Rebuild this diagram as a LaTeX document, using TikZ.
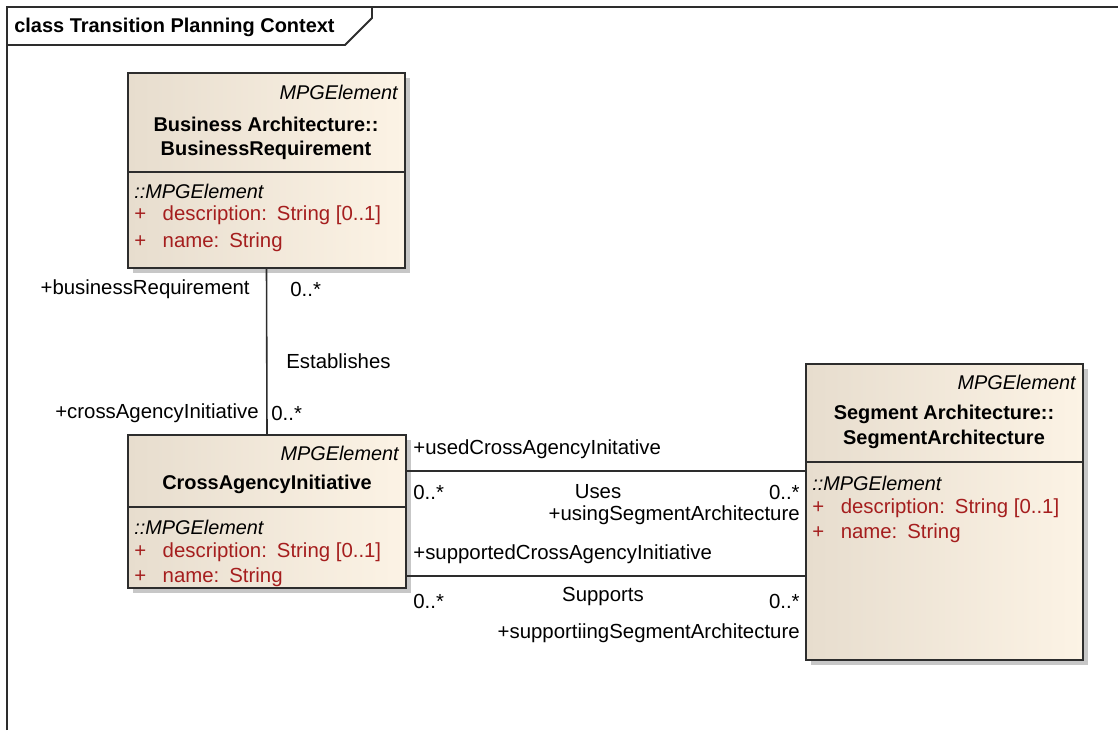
\documentclass[tikz,border=0pt]{standalone}
\usepackage{fontspec}
\setmainfont{Liberation Sans}
\usetikzlibrary{shadows}

\definecolor{boxleft}{RGB}{231,221,206}
\definecolor{boxright}{RGB}{252,243,229}
\definecolor{attrred}{RGB}{165,30,30}
\definecolor{edgegray}{RGB}{45,45,45}
\newcommand{\diafont}{\fontsize{11.6}{13.5}\selectfont}
\newcommand{\diabold}{\fontsize{11.35}{13.5}\selectfont\bfseries}

\tikzset{
  classbox/.style={draw=edgegray, line width=1.1pt, left color=boxleft, right color=boxright,
    drop shadow={shadow xshift=0.1cm, shadow yshift=-0.1cm, fill=black!22, opacity=1},
    inner sep=0pt},
  divider/.style={draw=edgegray, line width=1.1pt},
  assoc/.style={draw=edgegray, line width=0.9pt},
  stereo/.style={font=\fontsize{11.3}{13.5}\selectfont\itshape, anchor=east, inner sep=0pt},
  cname/.style={font=\diabold, inner sep=0pt},
  attr/.style={font=\diafont, text=attrred, anchor=west, inner sep=0pt},
  parentname/.style={font=\fontsize{11.3}{13.5}\selectfont\itshape, anchor=west, inner sep=0pt},
  lbl/.style={font=\diafont, inner sep=0pt}
}

\begin{document}
\begin{tikzpicture}[x=0.02cm, y=-0.02cm]
\useasboundingbox (0,0) rectangle (1118,730);

% frame and title tab
\draw[edgegray, line width=1.1pt] (7,730) -- (7,7) -- (1118,7);
\draw[edgegray, line width=1.1pt] (7,45) -- (345,45) -- (372,18) -- (372,7);
\node[lbl, font=\diabold, anchor=west] (title) at (14,27) {class Transition Planning Context};

\begin{scope}
% classes
\node[classbox, minimum width=5.54cm, minimum height=3.9cm] (busreq) at (266.5,170.5) {};
\node[classbox, minimum width=5.56cm, minimum height=3.06cm] (cross) at (267,511.5) {};
\node[classbox, minimum width=5.54cm, minimum height=5.92cm] (segarch) at (944.5,512) {};

\draw[divider] (busreq.west |- 0,172) -- (busreq.east |- 0,172);
\draw[divider] (cross.west |- 0,507) -- (cross.east |- 0,507);
\draw[divider] (segarch.west |- 0,462) -- (segarch.east |- 0,462);

% BusinessRequirement
\node[stereo] (busreqst) at (398,92) {MPGElement};
\node[cname] (busreqn1) at (266,124) {Business Architecture::};
\node[cname] (busreqn2) at (266,150) {BusinessRequirement};
\node[parentname] (busreqp) at (134,191) {::MPGElement};
\node[attr] (busreqa1) at (134,215) {+\hspace{0.33cm}description:\hspace{0.2cm}String [0..1]};
\node[attr] (busreqa2) at (134,242) {+\hspace{0.33cm}name:\hspace{0.2cm}String};

% CrossAgencyInitiative
\node[stereo] (crossst) at (399,453) {MPGElement};
\node[cname] (crossn) at (267,484) {CrossAgencyInitiative};
\node[parentname] (crossp) at (134,527) {::MPGElement};
\node[attr] (crossa1) at (134,552) {+\hspace{0.33cm}description:\hspace{0.2cm}String [0..1]};
\node[attr] (crossa2) at (134,577) {+\hspace{0.33cm}name:\hspace{0.2cm}String};

% SegmentArchitecture
\node[stereo] (segst) at (1076,382) {MPGElement};
\node[cname] (segn1) at (944,414) {Segment Architecture::};
\node[cname] (segn2) at (944,439) {SegmentArchitecture};
\node[parentname] (segp) at (812,483) {::MPGElement};
\node[attr] (sega1) at (812,508) {+\hspace{0.33cm}description:\hspace{0.2cm}String [0..1]};
\node[attr] (sega2) at (812,533) {+\hspace{0.33cm}name:\hspace{0.2cm}String};
\end{scope}

% associations
\draw[assoc] (busreq.south) -- (cross.north);
\draw[assoc] (cross.east |- 0,471) -- (segarch.west |- 0,471);
\draw[assoc] (cross.east |- 0,576) -- (segarch.west |- 0,576);

\node[lbl, anchor=east] (brrole) at (250,289) {+businessRequirement};
\node[lbl, anchor=west] (brmult) at (290,289) {0..*};
\node[lbl, anchor=west] (estab) at (286,361) {Establishes};
\node[lbl, anchor=east] (carole) at (259,413) {+crossAgencyInitiative};
\node[lbl, anchor=west] (camult) at (271,413) {0..*};

\node[lbl, anchor=west] (usedrole) at (413,449) {+usedCrossAgencyInitative};
\node[lbl, anchor=west] (usedmult) at (413,492) {0..*};
\node[lbl] (uses) at (598,492) {Uses};
\node[lbl, anchor=east] (usingmult) at (800,492) {0..*};
\node[lbl, anchor=east] (usingrole) at (800,515) {+usingSegmentArchitecture};

\node[lbl, anchor=west] (suprole) at (413,554) {+supportedCrossAgencyInitiative};
\node[lbl, anchor=west] (supmult) at (413,601) {0..*};
\node[lbl] (supports) at (603,596) {Supports};
\node[lbl, anchor=east] (supingmult) at (800,601) {0..*};
\node[lbl, anchor=east] (supingrole) at (800,633) {+supportiingSegmentArchitecture};

\end{tikzpicture}
\end{document}
